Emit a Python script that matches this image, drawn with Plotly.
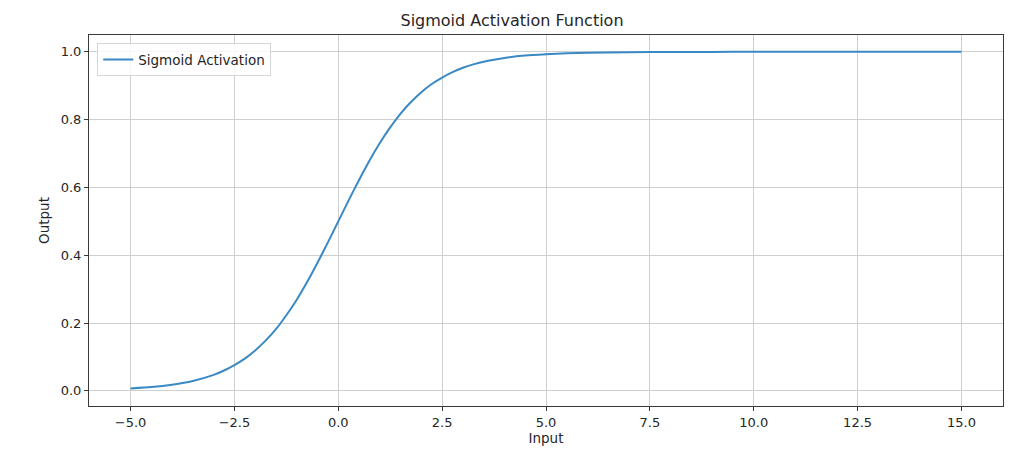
import plotly.graph_objects as go

# Values
x_input = [-5.0, -4.5, -4.0, -3.5, -3.0, -2.75, -2.5, -2.25, -2.0, -1.75, -1.5, -1.25, -1.0,
           -0.75, -0.5, -0.25, 0.0, 0.25, 0.5, 0.75, 1.0, 1.25, 1.5, 1.75, 2.0, 2.25, 2.5,
           2.75, 3.0, 3.25, 3.5, 3.75, 4.0, 4.5, 5.0, 5.5, 6.0, 7.0, 8.0, 9.0, 10.0, 11.0,
           12.0, 13.0, 14.0, 15.0]
y_output = [0.007, 0.011, 0.018, 0.029, 0.047, 0.060, 0.076, 0.095, 0.119, 0.148, 0.182,
            0.223, 0.269, 0.321, 0.378, 0.438, 0.500, 0.562, 0.622, 0.679, 0.731, 0.777,
            0.818, 0.852, 0.881, 0.905, 0.924, 0.940, 0.953, 0.963, 0.971, 0.977, 0.982,
            0.989, 0.993, 0.996, 0.9975, 0.9991, 0.9997, 0.9999, 1.000, 1.000, 1.000,
            1.000, 1.000, 1.000]
x_ticks = [-5.0, -2.5, 0.0, 2.5, 5.0, 7.5, 10.0, 12.5, 15.0]
y_ticks = [0.0, 0.2, 0.4, 0.6, 0.8, 1.0]

FONT = "DejaVu Sans"
TXT = "#262626"

fig = go.Figure()
fig.add_trace(go.Scatter(
    x=x_input, y=y_output, mode="lines", name="Sigmoid Activation",
    line=dict(color="#3a89c5", width=2, shape="spline", smoothing=0.5),
))

axis_common = dict(
    showgrid=True, gridcolor="#cfcfcf", gridwidth=1,
    showline=True, linecolor="#3a3a3a", linewidth=1, mirror=True,
    ticks="outside", ticklen=4, tickcolor="#3a3a3a", tickwidth=1,
    zeroline=False, tickfont=dict(family=FONT, size=13, color=TXT),
    tickformat=".1f",
)

fig.update_layout(
    width=1024, height=462,
    margin=dict(l=89, r=21, t=35, b=56),
    paper_bgcolor="white", plot_bgcolor="white",
    title=dict(text="Sigmoid Activation Function", x=0.5, xanchor="center",
               y=1 - 20 / 462, yanchor="middle",
               font=dict(family=FONT, size=16, color=TXT)),
    xaxis=dict(range=[-6.0, 16.0], tickvals=x_ticks,
               title=dict(text="Input", font=dict(family=FONT, size=13.5, color=TXT), standoff=3),
               **axis_common),
    yaxis=dict(range=[-0.0447, 1.0497], tickvals=y_ticks,
               title=dict(text="Output", font=dict(family=FONT, size=13.5, color=TXT), standoff=7),
               **axis_common),
    legend=dict(x=0.009, y=0.978, xanchor="left", yanchor="top",
                bgcolor="rgba(255,255,255,0.8)", bordercolor="#d6d6d6", borderwidth=1,
                itemwidth=30,
                font=dict(family=FONT, size=13.5, color=TXT)),
    showlegend=True,
)

fig.write_html("out.html")
